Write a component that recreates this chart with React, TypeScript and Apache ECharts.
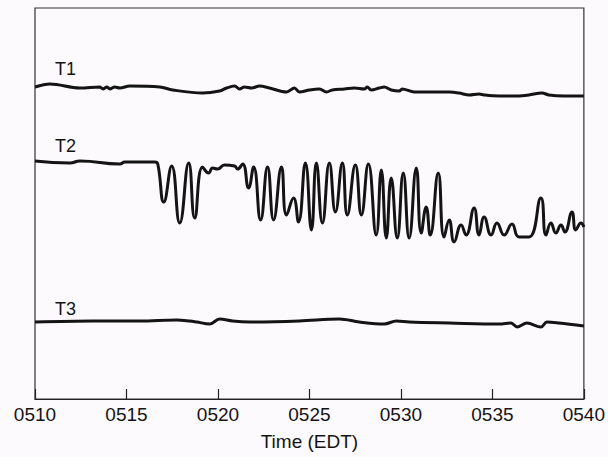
import React, { useEffect, useRef } from 'react';
import * as echarts from 'echarts';

// x in minutes after 05:00 (EDT)
const xMin = 10;
const xMax = 40;
const xInterval = 5;
const xAxisTitle = 'Time (EDT)';

const traceNames = ['T1', 'T2', 'T3'];
// vertical placement of each trace (baseline), in plot units
const traceOffsets = [311, 238, 77];

const t1Time = [10.0, 10.82, 12.45, 13.55, 13.71, 13.93, 14.09, 14.36, 14.64, 15.18, 16.82, 17.53, 19.16, 20.09, 20.47, 20.91, 21.18, 21.45, 21.84, 22.27, 22.82, 23.75, 24.18, 24.45, 25.0, 25.55, 25.93, 26.25, 26.91, 27.45, 28.0, 28.16, 28.38, 28.82, 29.09, 29.47, 29.91, 30.07, 30.73, 31.55, 32.64, 33.18, 33.73, 34.27, 34.55, 35.36, 36.45, 37.0, 37.71, 38.09, 38.91, 40.0];
const t1Value = [1, 4, 0, 1, -1, 1, -1, 1, 0, 2, 1, -2, -5, -3, 0, 2, -1, 1, 0, 2, 0, -4, 0, -4, -2, -1, -4, -2, -1, 0, -1, 1, -2, 0, 1, -2, -3, -1, -4, -4, -4, -5, -7, -6, -7, -8, -8, -7, -5, -7, -8, -8];

const t2Time = [10.0, 11.91, 12.45, 14.64, 14.91, 16.55, 16.71, 17.04, 17.47, 17.91, 18.4, 18.73, 19.16, 19.49, 19.71, 19.98, 20.36, 20.91, 21.07, 21.35, 21.67, 21.95, 22.33, 22.71, 23.04, 23.47, 23.75, 24.13, 24.4, 24.78, 25.11, 25.38, 25.71, 26.09, 26.42, 26.8, 27.07, 27.51, 27.84, 28.22, 28.65, 28.93, 29.2, 29.47, 29.8, 30.13, 30.45, 30.84, 31.11, 31.38, 31.6, 32.04, 32.36, 32.64, 32.91, 33.29, 33.56, 34.0, 34.27, 34.55, 34.93, 35.25, 35.64, 36.07, 36.45, 37.0, 37.65, 37.93, 38.2, 38.47, 38.75, 38.96, 39.35, 39.56, 39.84, 40.0];
const t2Value = [0, -2, 0, -3, -1, -1, -3, -41, -5, -62, -2, -57, -6, -12, -7, -8, -4, -5, -8, -3, -27, -6, -59, -6, -59, -6, -54, -37, -61, -2, -69, -2, -62, -2, -51, -2, -54, -4, -54, -3, -74, -9, -77, -17, -77, -12, -77, -7, -72, -46, -74, -12, -76, -59, -81, -64, -74, -47, -74, -56, -74, -62, -74, -63, -76, -76, -37, -74, -62, -72, -64, -71, -51, -69, -62, -66];

const t3Time = [10.0, 13.16, 15.73, 17.75, 18.45, 18.84, 19.55, 20.09, 20.8, 21.73, 24.45, 26.64, 27.73, 29.09, 29.75, 30.45, 32.64, 35.36, 36.02, 36.35, 36.89, 37.65, 37.98, 38.64, 40.0];
const t3Value = [0, 1, 1, 2, 1, 0, -2, 3, 1, 0, 1, 3, 0, -2, 1, 0, -1, -2, -1, -5, -1, -5, 0, -1, -4];

const traceTimes = [t1Time, t2Time, t3Time];
const traceValues = [t1Value, t2Value, t3Value];

const FONT = '"Liberation Sans", Arial, Helvetica, sans-serif';
const INK = '#141414';

export default function App() {
  const ref = useRef<HTMLDivElement>(null);

  useEffect(() => {
    const chart = echarts.init(ref.current!, null, { renderer: 'svg' });

    const series = traceNames.map((name, k) => ({
      name,
      type: 'line',
      data: traceTimes[k].map((t, i) => [t, traceValues[k][i] + traceOffsets[k]]),
      showSymbol: false,
      smooth: k === 1 ? 0.5 : 0.35,
      lineStyle: { color: INK, width: 3 },
      silent: true,
    }));

    const labelTops = [60, 137, 300];

    chart.setOption({
      animation: false,
      backgroundColor: '#fcfafc',
      grid: {
        left: 35,
        right: 23,
        top: 8,
        bottom: 58,
        show: true,
        borderColor: '#333',
        borderWidth: 1.2,
        backgroundColor: 'transparent',
      },
      xAxis: {
        type: 'value',
        min: xMin,
        max: xMax,
        interval: xInterval,
        name: xAxisTitle,
        nameLocation: 'middle',
        nameGap: 33,
        nameTextStyle: { fontFamily: FONT, fontSize: 19, color: INK },
        axisLine: { show: true, lineStyle: { color: '#222', width: 1.2 } },
        axisTick: { show: true, inside: true, length: 10, lineStyle: { color: '#222', width: 1.2 } },
        axisLabel: {
          fontFamily: FONT,
          fontSize: 19,
          color: INK,
          margin: 6,
          formatter: (v: number) => '05' + String(v).padStart(2, '0'),
        },
        splitLine: { show: false },
      },
      yAxis: {
        type: 'value',
        min: 0,
        max: 391,
        show: false,
      },
      graphic: traceNames.map((name, k) => ({
        type: 'text',
        left: 55,
        top: labelTops[k],
        style: { text: name, fontFamily: FONT, fontSize: 18, fill: INK },
      })),
      series,
    });

    return () => chart.dispose();
  }, []);

  return (
    <div
      ref={ref}
      style={{ position: 'fixed', left: 0, top: 0, width: 608, height: 457 }}
    />
  );
}
